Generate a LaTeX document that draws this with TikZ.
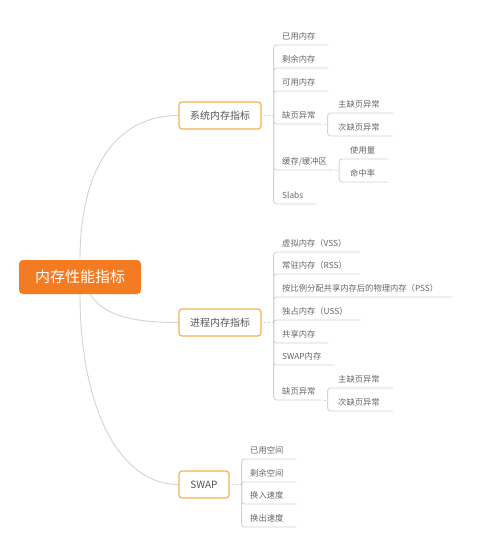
\documentclass[tikz,border=0pt]{standalone}
\usepackage{fontspec}
\newfontfamily\cjk{Noto Sans CJK SC}
\definecolor{rootorange}{HTML}{F37B22}
\definecolor{boxorange}{HTML}{F4B352}
\definecolor{linegray}{HTML}{D3D3D3}
\definecolor{boxtext}{HTML}{555555}
\definecolor{leaftext}{HTML}{666666}
\begin{document}
\begin{tikzpicture}[x=1pt, y=-1pt,
    line/.style={draw=linegray, line width=0.9pt},
    link/.style={line, rounded corners=3pt},
    gap/.style={line, dash pattern=on 2pt off 2pt},
    rootbox/.style={fill=rootorange, rounded corners=4pt, text=white, font=\cjk\fontsize{15}{15}\selectfont, minimum width=122pt, minimum height=34pt},
    topic/.style={draw=boxorange, line width=1.2pt, fill=white, rounded corners=3pt, text=boxtext, font=\cjk\fontsize{10}{10}\selectfont, minimum height=27pt, inner xsep=0pt},
    leaf/.style={anchor=south west, inner xsep=6pt, inner ysep=0pt, text height=7pt, text depth=5.8pt, text=leaftext, font=\cjk\fontsize{8.3}{10}\selectfont}]
    \useasboundingbox (0,0) rectangle (500,555);

    % main topics
    \node (root) [rootbox] at (80,277) {内存性能指标};
    \node (sys) [topic, minimum width=82pt] at (220,115.5) {系统内存指标};
    \node (proc) [topic, minimum width=82pt] at (220,322.5) {进程内存指标};
    \node (swap) [topic, minimum width=50pt] at (204,484.5) {SWAP};

    \draw[line] (root.north) .. controls (80,170) and (115,115.5) .. (sys.west);
    \draw[line] ([xshift=10]root.south) .. controls (105,318) and (140,322.5) .. (proc.west);
    \draw[line] (root.south) .. controls (80,405) and (118,484.5) .. (swap.west);

    % system memory
    \coordinate (sysJ) at ([xshift=12]sys.east);
    \draw[gap] ([xshift=2]sys.east) -- (sysJ);
    \node (s1) [leaf] at (276,45) {已用内存};
    \node (s2) [leaf] at (276,68) {剩余内存};
    \node (s3) [leaf] at (276,91) {可用内存};
    \node (s4) [leaf] at (276,124) {缺页异常};
    \node (s5) [leaf] at (276,170) {缓存/缓冲区};
    \node (s6) [leaf] at (276,204) {Slabs};
    \draw[link] (sysJ) |- ([xshift=7]s1.south east);
    \draw[link] (sysJ) |- ([xshift=7]s2.south east);
    \draw[link] (sysJ) |- ([xshift=7]s3.south east);
    \draw[link] (sysJ) |- (s4.south east);
    \draw[link] (sysJ) |- (s5.south east);
    \draw[link] (sysJ) |- ([xshift=7]s6.south east);

    \coordinate (s4J) at ([xshift=6]s4.south east);
    \draw[gap] ([xshift=2]s4.south east) -- (s4J);
    \node (s41) [leaf] at (332,113) {主缺页异常};
    \node (s42) [leaf] at (332,136) {次缺页异常};
    \draw[link] (s4J) |- ([xshift=7]s41.south east);
    \draw[link] (s4J) |- ([xshift=7]s42.south east);

    \coordinate (s5J) at ([xshift=6]s5.south east);
    \draw[gap] ([xshift=2]s5.south east) -- (s5J);
    \node (s51) [leaf] at (344,159) {使用量};
    \node (s52) [leaf] at (344,182) {命中率};
    \draw[link] (s5J) |- ([xshift=7]s51.south east);
    \draw[link] (s5J) |- ([xshift=7]s52.south east);

    % process memory
    \coordinate (procJ) at ([xshift=12]proc.east);
    \draw[gap] ([xshift=2]proc.east) -- (procJ);
    \node (p1) [leaf] at (276,252) {虚拟内存（VSS）};
    \node (p2) [leaf] at (276,274) {常驻内存（RSS）};
    \node (p3) [leaf] at (276,297) {按比例分配共享内存后的物理内存（PSS）};
    \node (p4) [leaf] at (276,320) {独占内存（USS）};
    \node (p5) [leaf] at (276,343) {共享内存};
    \node (p6) [leaf] at (276,365) {SWAP内存};
    \node (p7) [leaf] at (276,400) {缺页异常};
    \draw[link] (procJ) |- ([xshift=7]p1.south east);
    \draw[link] (procJ) |- ([xshift=7]p2.south east);
    \draw[link] (procJ) |- ([xshift=7]p3.south east);
    \draw[link] (procJ) |- ([xshift=7]p4.south east);
    \draw[link] (procJ) |- ([xshift=7]p5.south east);
    \draw[link] (procJ) |- ([xshift=7]p6.south east);
    \draw[link] (procJ) |- (p7.south east);

    \coordinate (p7J) at ([xshift=6]p7.south east);
    \draw[gap] ([xshift=2]p7.south east) -- (p7J);
    \node (p71) [leaf] at (332,388) {主缺页异常};
    \node (p72) [leaf] at (332,411) {次缺页异常};
    \draw[link] (p7J) |- ([xshift=7]p71.south east);
    \draw[link] (p7J) |- ([xshift=7]p72.south east);

    % swap
    \coordinate (swapJ) at ([xshift=12]swap.east);
    \draw[gap] ([xshift=2]swap.east) -- (swapJ);
    \node (w1) [leaf] at (244,459) {已用空间};
    \node (w2) [leaf] at (244,482) {剩余空间};
    \node (w3) [leaf] at (244,504) {换入速度};
    \node (w4) [leaf] at (244,527) {换出速度};
    \draw[link] (swapJ) |- ([xshift=7]w1.south east);
    \draw[link] (swapJ) |- ([xshift=7]w2.south east);
    \draw[link] (swapJ) |- ([xshift=7]w3.south east);
    \draw[link] (swapJ) |- ([xshift=7]w4.south east);
\end{tikzpicture}
\end{document}
